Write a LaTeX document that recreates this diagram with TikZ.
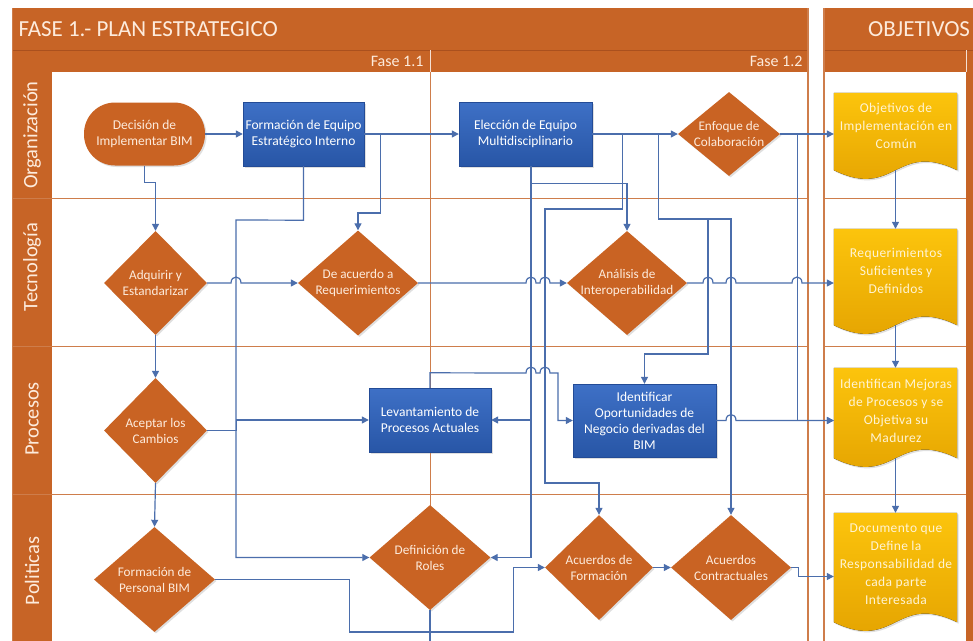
\documentclass[tikz,border=0pt]{standalone}
\usepackage{fontspec}
\setmainfont{Carlito}
\newfontfamily\docfont[LetterSpace=3]{Carlito}
\usetikzlibrary{shapes.geometric,arrows.meta,calc,shadows}
\definecolor{orH}{RGB}{199,100,38}
\definecolor{orN}{RGB}{201,99,35}
\definecolor{orLine}{RGB}{206,125,75}
\definecolor{orDark}{RGB}{170,80,30}
\definecolor{blT}{RGB}{62,112,198}
\definecolor{blB}{RGB}{40,86,166}
\definecolor{blD}{RGB}{35,75,150}
\definecolor{ylT}{RGB}{252,196,12}
\definecolor{ylB}{RGB}{226,160,0}
\definecolor{cn}{RGB}{75,110,172}
\definecolor{txO}{RGB}{253,235,220}
\definecolor{txY}{RGB}{255,244,212}
\newcommand\jhop[2]{-- ({#1-5},#2) .. controls ({#1-5},{#2-8}) and ({#1+5},{#2-8}) .. ({#1+5},#2)}
\newcommand\docpath[1]{\fill[docfill] (#1.north west) -- (#1.north east) -- (#1.south east) .. controls ($(#1.south)+(0,-30)$) and ($(#1.south)+(0,30)$) .. (#1.south west) -- cycle;}
\begin{document}
\begin{tikzpicture}[x=1pt,y=-1pt,
  conn/.style={draw=cn, line width=1.2pt, -{Triangle[length=7pt,width=7pt]}},
  connfree/.style={draw=cn, line width=1.2pt},
  shad/.style={drop shadow={opacity=.25,shadow xshift=1.5pt,shadow yshift=-1.5pt}},
  dia/.style={shape=diamond, fill=orN, inner sep=0pt, shad},
  dtxt/.style={align=center, text=txO, font=\fontsize{13.2}{16}\selectfont},
  bbox/.style={rectangle, draw=blD, top color=blT, bottom color=blB, text=white, align=center, inner sep=1pt, font=\fontsize{13.5}{16}\selectfont, shad},
  term/.style={rectangle, rounded corners=31pt, fill=orN, text=txO, align=center, font=\fontsize{13.5}{16}\selectfont, shad},
  docbox/.style={rectangle, minimum width=123pt, inner sep=0pt},
  docfill/.style={top color=ylT, bottom color=ylB, shad},
  doctxt/.style={align=center, text=txY, font=\docfont\fontsize{13.5}{18}\selectfont},
  lanetxt/.style={text=txO, font=\fontsize{20.5}{22}\selectfont},
  fasetxt/.style={text=txO, font=\fontsize{16}{18}\selectfont},
  titletxt/.style={text=txO, font=\fontsize{23}{25}\selectfont},
  laneline/.style={draw=orLine, line width=1pt}
]
\useasboundingbox (0,0) rectangle (973,640);
\clip (0,0) rectangle (973,640);
\fill[white] (0,0) rectangle (973,640);

% ---------- Fase 1 frame ----------
\fill[orH] (12,8) rectangle (808,72);
\fill[orH] (12,72) rectangle (52,660);
\draw[orDark, line width=0.8pt] (12,50) -- (808,50);
\draw[white!80!orH, line width=0.8pt] (430,50) -- (430,72);
\draw[orLine, line width=1.5pt] (808,8) -- (808,660);
\draw[orLine, line width=1pt] (12,8) -- (12,660);
\foreach \yy in {198,346,494} \draw[laneline] (12,\yy) -- (808,\yy);
\draw[laneline] (430,72) -- (430,660);
\node[titletxt, anchor=west] (t1) at (15,29) {FASE 1.- PLAN ESTRATEGICO};
\node[fasetxt, anchor=east] (f11) at (427,61) {Fase 1.1};
\node[fasetxt, anchor=east] (f12) at (806,61) {Fase 1.2};
\node[lanetxt, rotate=90] (l1) at (32,135) {Organización};
\node[lanetxt, rotate=90] (l2) at (32,267) {Tecnología};
\node[lanetxt, rotate=90] (l3) at (32,419) {Procesos};
\node[lanetxt, rotate=90] (l4) at (32,571) {Politicas};

% ---------- Objetivos frame ----------
\fill[orH] (824,8) rectangle (980,72);
\fill[orH] (966,72) rectangle (980,660);
\draw[orDark, line width=0.8pt] (824,50) -- (980,50);
\draw[white!80!orH, line width=0.8pt] (966,50) -- (966,72);
\draw[orLine, line width=1.5pt] (824,8) -- (824,660);
\foreach \yy in {198,346,494} \draw[laneline] (824,\yy) -- (966,\yy);
\node[titletxt, anchor=west, inner sep=0pt] (t2) at (868,29) {OBJETIVOS};

% ---------- Nodes ----------
\node[term, minimum width=121pt, minimum height=63pt] (dec) at (144.5,134) {Decisión de\\Implementar BIM};
\node[bbox, minimum width=121pt, minimum height=64pt] (fe) at (303.5,134) {Formación de Equipo\\Estratégico Interno};
\node[bbox, minimum width=133pt, minimum height=64pt] (el) at (525.5,134) {Elección de Equipo\\Multidisciplinario};
\node[dia, minimum width=102pt, minimum height=84pt] (enf) at (729,134) {};
\node[dtxt] at (enf) {Enfoque de\\Colaboración};

\node[dia, minimum width=103pt, minimum height=104pt] (adq) at (155.5,283) {};
\node[dtxt] at (adq) {Adquirir y\\Estandarizar};
\node[dia, minimum width=120pt, minimum height=105pt] (dea) at (358,283) {};
\node[dtxt] at (dea) {De acuerdo a\\Requerimientos};
\node[dia, minimum width=120pt, minimum height=104pt] (ana) at (627,283) {};
\node[dtxt] at (ana) {Análisis de\\Interoperabilidad};

\node[dia, minimum width=103pt, minimum height=105pt] (acp) at (155.5,430.5) {};
\node[dtxt] at (acp) {Aceptar los\\Cambios};
\node[bbox, minimum width=122pt, minimum height=64pt] (lev) at (430,420) {Levantamiento de\\Procesos Actuales};
\node[bbox, minimum width=143pt, minimum height=73pt] (idf) at (644.5,420.5) {Identificar\\Oportunidades de\\Negocio derivadas del\\BIM};

\node[dia, minimum width=121pt, minimum height=105pt] (fp) at (154.5,579.5) {};
\node[dtxt] at (fp) {Formación de\\Personal BIM};
\node[dia, minimum width=121pt, minimum height=105pt] (dr) at (430,557.5) {};
\node[dtxt] at (dr) {Definición de\\Roles};
\node[dia, minimum width=108pt, minimum height=105pt] (af) at (599,567.5) {};
\node[dtxt] at (af) {Acuerdos de\\Formación};
\node[dia, minimum width=120pt, minimum height=105pt] (ac) at (731,567.5) {};
\node[dtxt] at (ac) {Acuerdos\\Contractuales};

% documents
\node[docbox, minimum height=77pt] (obj1) at (895.5,131.5) {};
\docpath{obj1}
\node[doctxt] at (896,126) {Objetivos de\\Implementación en\\Común};
\node[docbox, minimum height=96pt] (obj2) at (895.5,277) {};
\docpath{obj2}
\node[doctxt] at (896,271) {Requerimientos\\Suficientes y\\Definidos};
\node[docbox, minimum height=90pt] (obj3) at (895.5,413) {};
\docpath{obj3}
\node[doctxt] at (896,411) {Identifican Mejoras\\de Procesos y se\\Objetiva su\\Madurez};
\node[docbox, minimum height=109pt] (obj4) at (895.5,567.5) {};
\docpath{obj4}
\node[doctxt] at (896,564) {Documento que\\Define la\\Responsabilidad de\\cada parte\\Interesada};

\coordinate (drend) at (430,660);

% ---------- Connectors ----------
\draw[conn] (dec.east) -- (dec.east -| fe.west);
\draw[conn] (fe.east) -- (el.west);
\draw[conn] (fe.east) -- ++(16,0) -- ++(0,79) -| (dea.north);
\draw[conn] (fe.south) -- ++(0,54) -- (236,220) |- (dr.west);
\draw[conn] (el.east) -- (enf.west);
\draw[conn] ($(el.south)+(5.5,0)$) -- ++(0,17) -| (ana.north);
\draw[conn] ($(el.south)+(5.5,0)$) |- (lev.east);
\draw[conn] ($(el.south)+(5.5,0)$) |- (dr.east);
\draw[conn] (el.east) -- ++(30,0) -- ++(0,75) -- (545,209) -- (545,483) -| (af.north);
\draw[conn] (el.east) -- ++(66,0) -- ++(0,85) -- (708,219) -- (708,354) -| (idf.north);
\draw[conn] (el.east) -- ++(66,0) -- ++(0,85) -| (ac.north);
\draw[conn] (enf.east) -- (enf.east -| obj1.west);
\draw[conn] (enf.east) -- ++(17,0) |- (idf.east -| obj3.west);

\draw[conn] (dec.south) -- ++(0,17) -| (adq.north);
\draw[conn] (adq.east) \jhop{236}{283} -- (dea.west);
\draw[conn] (dea.east) \jhop{531}{283} \jhop{545}{283} -- (ana.west);
\draw[conn] (ana.east) \jhop{708}{283} \jhop{731}{283} \jhop{797}{283} -- (ana.east -| obj2.west);
\draw[conn] (adq.south) -- (acp.north);
\draw[conn] (acp.east) -- ++(29,0) |- (lev.west);
\draw[conn] (acp.south) -- (fp.north);
\draw[conn] (lev.north) -- ++(0,-15) \jhop{531}{373} \jhop{545}{373} -- (558,373) |- (idf.west);
\draw[conn] (idf.east) \jhop{731}{420.5} -- (idf.east -| obj3.west);
\draw[conn] (fp.east) -- ++(134,0) -- ++(0,52.5) -- ++(164,0) |- (af.west);
\draw[connfree] (dr.south) -- (drend);
\draw[conn] (af.east) -- (ac.west);
\draw[conn] (ac.east) -- ++(7,0) |- ($(obj4.west)+(0,9)$);

\draw[conn] (obj1.south) -- (obj2.north);
\draw[conn] (obj2.south) -- (obj3.north);
\draw[conn] (obj3.south) -- (obj4.north);
\end{tikzpicture}
\end{document}
